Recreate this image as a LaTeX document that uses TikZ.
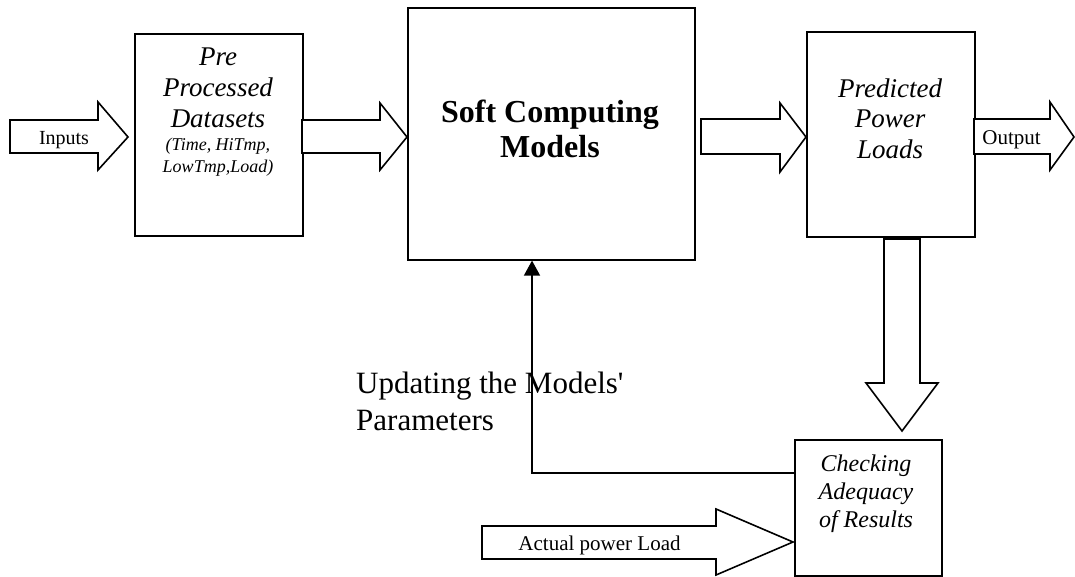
\documentclass[tikz,border=0pt]{standalone}
\usepackage{fontspec}
\setmainfont{Liberation Serif}
\usetikzlibrary{arrows.meta}

\begin{document}
\begin{tikzpicture}[x=1pt,y=-1pt,
  box/.style={draw,line width=1.6pt,inner sep=0pt,anchor=north west},
  barrow/.style={draw,line width=1.6pt,line join=miter,fill=white},
  txt/.style={inner sep=0pt,anchor=base,align=center},
  feed/.style={draw,line width=1.6pt,-{Triangle[length=15pt,width=16pt]}}
]
\useasboundingbox (0,0) rectangle (1075,576);

% processing blocks
\node[box,minimum width=168pt,minimum height=202pt] (pre)  at (134,33) {};
\node[box,minimum width=287pt,minimum height=252pt] (soft) at (407,7) {};
\node[box,minimum width=168pt,minimum height=205pt] (pred) at (806,31) {};
\node[box,minimum width=147pt,minimum height=136pt] (chk)  at (794,439) {};

% block arrows
\path[barrow] (10,120) -- (98,120) -- (98,102) -- (128,137) -- (98,170) -- (98,153) -- (10,153) -- cycle;
\path[barrow] (302,120) -- (380,120) -- (380,103) -- (407,137) -- (380,170) -- (380,153) -- (302,153) -- cycle;
\path[barrow] (701,119) -- (780,119) -- (780,103) -- (806,137) -- (780,172) -- (780,154) -- (701,154) -- cycle;
\path[barrow] (974,119) -- (1050,119) -- (1050,102) -- (1074,137) -- (1050,170) -- (1050,154) -- (974,154) -- cycle;
\path[barrow] (884,239) -- (920,239) -- (920,383) -- (938,383) -- (902,431) -- (866,383) -- (884,383) -- cycle;
\path[barrow] (482,526) -- (716,526) -- (716,509) -- (793,542) -- (716,575) -- (716,559) -- (482,559) -- cycle;

% feedback loop
\coordinate (fb) at (532,473);
\draw[feed] (chk.west |- fb) -- (fb) -- (soft.south -| fb);

% labels (multi-line nodes sit on the baseline of their last line)
\node[txt,font=\fontsize{20}{24}\selectfont] (tin) at (64,144) {Inputs};
\node[txt,font=\itshape\fontsize{27}{31}\selectfont] (tpre) at (218,127) {Pre\\Processed\\Datasets};
\node[txt,font=\itshape\fontsize{18}{22}\selectfont] (tvar) at (218,172) {(Time, HiTmp,\\LowTmp,Load)};
\node[txt,font=\bfseries\fontsize{32}{35}\selectfont] (tsoft) at (550,157) {Soft Computing\\Models};
\node[txt,font=\itshape\fontsize{27}{30.5}\selectfont] (tpred) at (890,158) {Predicted\\Power\\Loads};
\node[txt,font=\fontsize{21}{24}\selectfont] (tout) at (1011.5,144) {Output};
\node[txt,font=\itshape\fontsize{24}{28}\selectfont] (tchk) at (866,527) {Checking\\Adequacy\\of Results};
\node[txt,font=\fontsize{21}{24}\selectfont] (tact) at (599.5,550) {Actual power Load};
\node[inner sep=0pt,anchor=base west,align=left,font=\fontsize{31}{37}\selectfont] (tupd) at (356,430) {Updating the Models\textquotesingle\\Parameters};
\end{tikzpicture}
\end{document}
